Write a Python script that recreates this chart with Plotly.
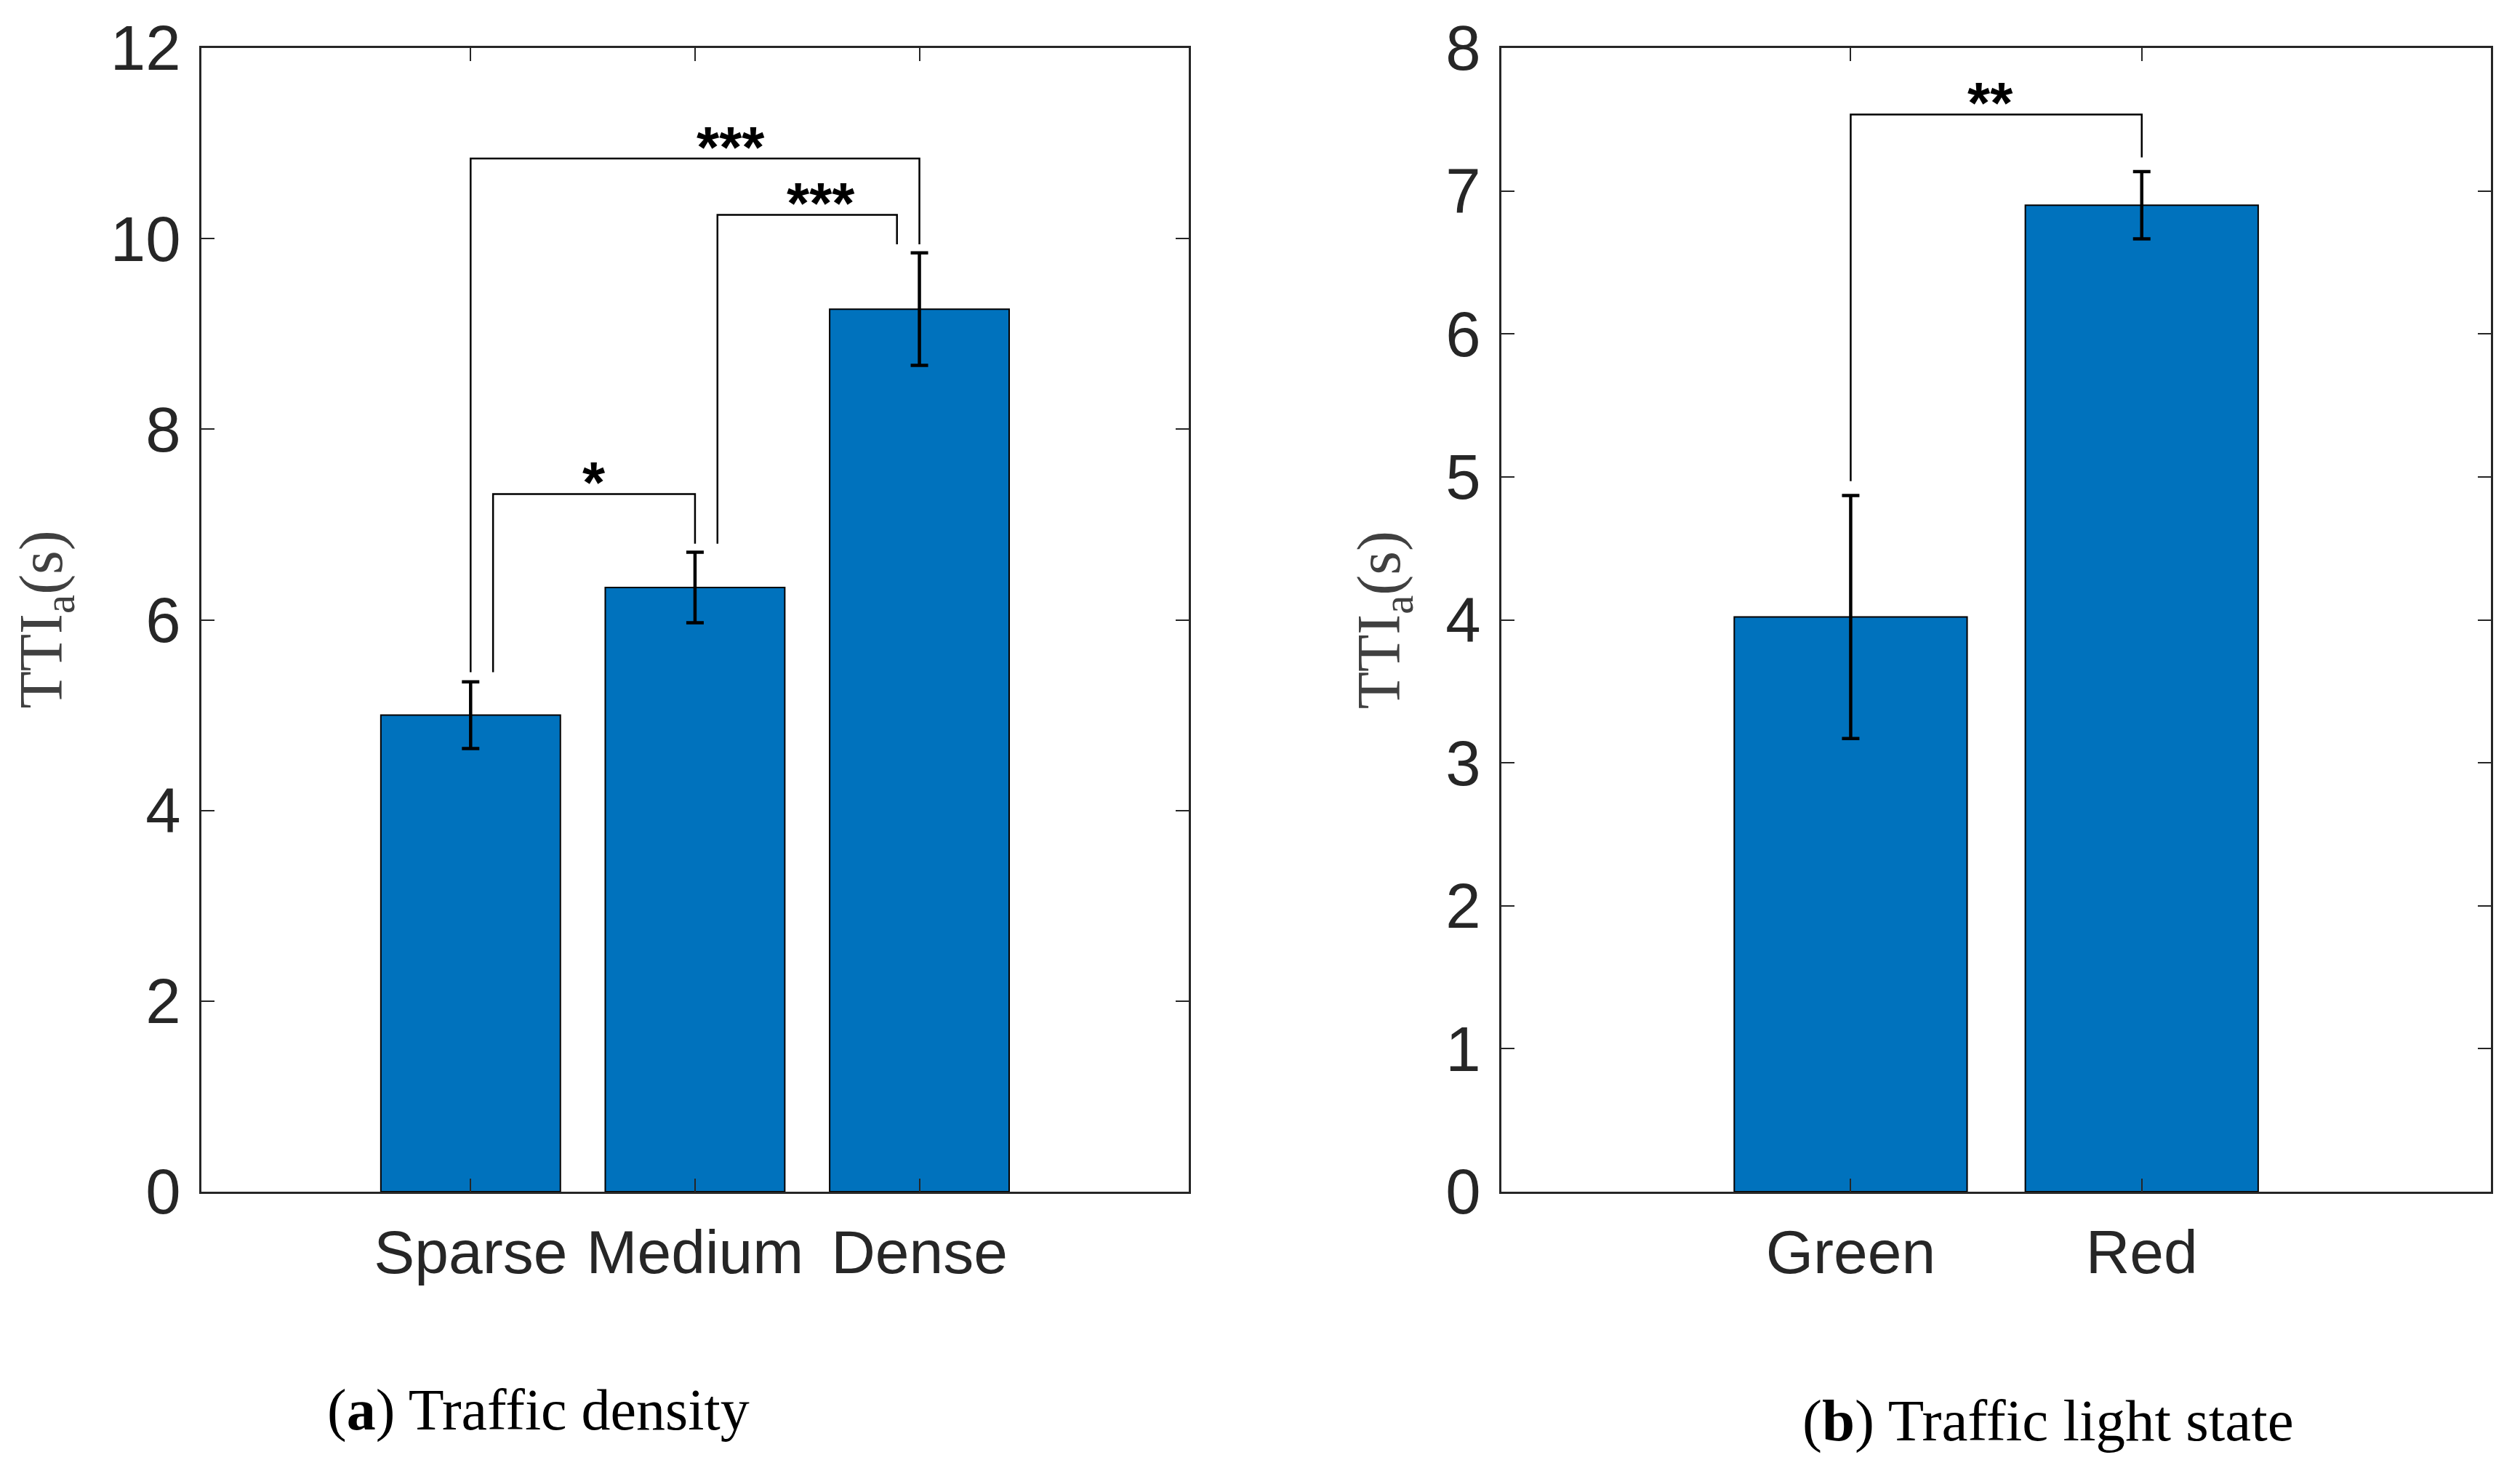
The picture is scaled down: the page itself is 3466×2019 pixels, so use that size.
import plotly.graph_objects as go

# ---------------- data ----------------
density_cats = ["Sparse", "Medium", "Dense"]
density_vals = [5.00, 6.34, 9.26]
density_err = [0.35, 0.37, 0.59]

light_cats = ["Green", "Red"]
light_vals = [4.02, 6.90]
light_err = [0.85, 0.235]

# significance brackets: (left x, right x), bracket height, leg ends, label, label x
dens_br_x = [(1, 3), (2.1, 2.9), (1.1, 2)]
dens_br_h = [10.84, 10.25, 7.32]
dens_br_lo = [(5.45, 9.94), (6.80, 9.94), (5.45, 6.80)]
dens_br_txt = ["***", "***", "*"]
dens_br_tx = [2.16, 2.56, 1.55]

light_br_x = [(1, 2)]
light_br_h = [7.535]
light_br_lo = [(4.97, 7.235)]
light_br_txt = ["**"]
light_br_tx = [1.48]

y1_ticks = [0, 2, 4, 6, 8, 10, 12]
y2_ticks = [0, 1, 2, 3, 4, 5, 6, 7, 8]

BAR = "#0072BD"
AX = "#262626"
SANS = "Liberation Sans, Arial, sans-serif"
SERIF = "Liberation Serif, Times New Roman, serif"

fig = go.Figure()

def add_panel(cats, vals, errs, xa, ya):
    xs = list(range(1, len(cats) + 1))
    fig.add_trace(go.Bar(
        x=xs, y=vals, width=0.8,
        marker=dict(color=BAR, line=dict(color="black", width=2)),
        error_y=dict(type="data", array=errs, visible=True,
                     color="black", thickness=4.5, width=12),
        xaxis=xa, yaxis=ya, showlegend=False, hoverinfo="skip"))

def add_brackets(bx, bh, blo, btxt, btx, xa, ya, xref, yref):
    for (x1, x2), h, (l1, l2), t, tx in zip(bx, bh, blo, btxt, btx):
        fig.add_trace(go.Scatter(
            x=[x1, x1, x2, x2], y=[l1, h, h, l2], mode="lines",
            line=dict(color="black", width=2.5),
            xaxis=xa, yaxis=ya, showlegend=False, hoverinfo="skip"))
        fig.add_annotation(x=tx, y=h, xref=xref, yref=yref, text="<b>" + t + "</b>",
                           showarrow=False, yanchor="middle", yshift=16,
                           font=dict(family=SANS, size=80, color="black"))

add_panel(density_cats, density_vals, density_err, "x", "y")
add_panel(light_cats, light_vals, light_err, "x2", "y2")
add_brackets(dens_br_x, dens_br_h, dens_br_lo, dens_br_txt, dens_br_tx, "x", "y", "x", "y")
add_brackets(light_br_x, light_br_h, light_br_lo, light_br_txt, light_br_tx, "x2", "y2", "x2", "y2")

y_dom = [0.1882, 0.9673]
common_ax = dict(showline=True, linecolor=AX, linewidth=3, mirror="ticks",
                 ticks="inside", ticklen=18, tickwidth=2, tickcolor=AX,
                 showgrid=False, zeroline=False, automargin=False)

fig.update_layout(
    width=3466, height=2019,
    margin=dict(l=0, r=0, t=0, b=0, autoexpand=False),
    paper_bgcolor="white", plot_bgcolor="white",
    xaxis=dict(domain=[0.0799, 0.4717], range=[-0.2, 4.2], anchor="y",
               tickvals=[1, 2, 3], ticktext=density_cats, ticklabelstandoff=8,
               tickfont=dict(family=SANS, size=84, color=AX), **common_ax),
    yaxis=dict(domain=y_dom, range=[0, 12], anchor="x",
               tickvals=y1_ticks, ticklabelstandoff=8,
               tickfont=dict(family=SANS, size=87, color=AX), **common_ax),
    xaxis2=dict(domain=[0.5958, 0.9885], range=[-0.2, 3.2], anchor="y2",
                tickvals=[1, 2], ticktext=light_cats, ticklabelstandoff=8,
                tickfont=dict(family=SANS, size=84, color=AX), **common_ax),
    yaxis2=dict(domain=y_dom, range=[0, 8], anchor="x2",
                tickvals=y2_ticks, ticklabelstandoff=8,
                tickfont=dict(family=SANS, size=87, color=AX), **common_ax),
)

ymid = (y_dom[0] + y_dom[1]) / 2
for xp in [0.0179, 0.549]:
    fig.add_annotation(x=xp, y=ymid, xref="paper", yref="paper",
                       text="TTI<sub>a</sub>(s)", textangle=-90, showarrow=False,
                       xanchor="center", yanchor="middle",
                       font=dict(family=SERIF, size=84, color="#404040"))

fig.add_annotation(x=0.2136, y=0.0395, xref="paper", yref="paper",
                   text="(<b>a</b>) Traffic density", showarrow=False,
                   xanchor="center", yanchor="middle",
                   font=dict(family=SERIF, size=80, color="black"))
fig.add_annotation(x=0.8127, y=0.0320, xref="paper", yref="paper",
                   text="(<b>b</b>) Traffic light state", showarrow=False,
                   xanchor="center", yanchor="middle",
                   font=dict(family=SERIF, size=81, color="black"))

fig.write_html("out.html", config={"displayModeBar": False},
               post_script="document.body.style.margin='0';")
